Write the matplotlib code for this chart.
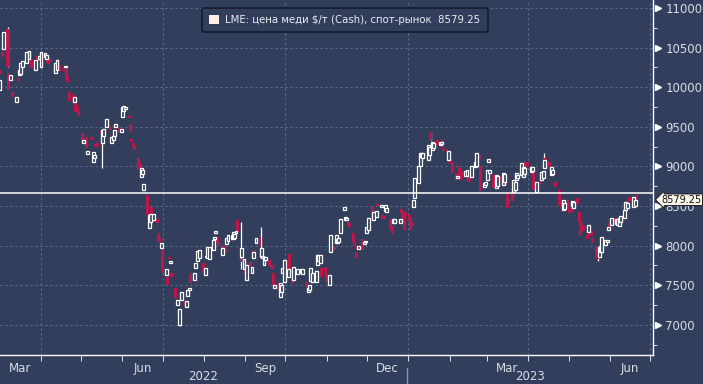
import numpy as np
import pandas as pd
import matplotlib
matplotlib.use("Agg")
import matplotlib.pyplot as plt
import matplotlib.dates as mdates
from matplotlib.patches import Patch
from matplotlib.lines import Line2D
from matplotlib.transforms import blended_transform_factory

# LME copper cash, daily candles (weekly rows, Mon..Fri)
opens = [
    9970, 10220, 10450, 10480,                      # wk of 28 Feb 2022 (from Tue)
    10730, 10180, 10090, 10150, 9940,
    9815, 10120, 10150, 10170, 10250,
    10300, 10450, 10350, 10450, 10340,
    10220, 10390, 10380, 10360, 10260,
    10380, 10360, 10400, 10380, 10350,
    10240, 10180, 10220, 10350, 10280,
    10230, 10250, 10250, 10140, 9940,
    9900, 9810, 9840, 9760, 9700,
    9420, 9290, 9350, 9370, 9160,
    9370, 9060, 9100, 9280, 9290,
    9450, 9300, 9380, 9450, 9500,
    9500, 9300, 9330, 9380, 9500,
    9480, 9430, 9620, 9700, 9720,
    9640, 9540, 9350, 9290, 9260,
    9100, 9050, 8870, 8900, 8700,
    8640, 8220, 8300, 8490, 8320,
    8330, 8160, 8100, 7970, 7950,
    7630, 7600, 7860, 7780, 7650,
    7470, 7250, 7190, 7000, 7320,
    7300, 7230, 7370, 7440, 7650,
    7570, 7720, 7800, 7940, 7850,
    7780, 7630, 7860, 7850, 7830,
    7950, 8080, 8160, 8110, 8040,
    7880, 7990, 7960, 8020, 8060,
    8090, 8080, 8100, 8160, 8320,
    7860, 7830, 7700, 7700, 7570,
    7790, 7660, 7850, 7950, 8030,
    8110, 7860, 7850, 7760, 7820,
    7820, 7790, 7750, 7650, 7470,
    7530, 7350, 7420, 7650, 7540,
    7600, 7900, 7700, 7590, 7570,
    7640, 7700, 7700, 7650, 7640,
    7540, 7420, 7440, 7560, 7540,
    7540, 7760, 7800, 7780, 7720,
    7730, 7650, 7620, 7500, 7920,
    7980, 8030, 8030, 8050, 8160,
    8450, 8325, 8320, 8300, 8280,
    8160, 8040, 7920, 7990, 7960,
    8080, 8020, 8040, 8160, 8200,
    8490, 8320, 8400, 8360, 8530,
    8490, 8390, 8380, 8440, 8430,
    8330, 8250, 8280, 8290, 8320,
    8280, 8460, 8440, 8390, 8420,
    8390, 8350, 8300, 8490, 8600,                   # wk of 2 Jan 2023
    8790, 9000, 9120, 9100, 9170,
    9080, 9150, 9430, 9210, 9230,
    9330, 9300, 9270, 9280, 9330,
    9220, 9080, 9160, 9100, 9060,
    8920, 8850, 9000, 8980, 8940,
    8880, 8880, 8880, 8870, 8870,
    8990, 9000, 9150, 9130, 9000,
    8740, 8770, 8830, 9050, 8920,
    8890, 8850, 8730, 8750, 8880,
    8770, 8800, 8880, 8670, 8600,
    8710, 8680, 8700, 8830, 8850,
    8890, 8870, 8900, 9060, 9050,
    8930, 8940, 8930, 8800, 8680,
    8840, 8830, 8860, 8980, 9100,
    9060, 8890, 8900, 8920, 8800,
    8700, 8580, 8560, 8450, 8460,
    8580, 8470, 8480, 8500, 8480,
    8600, 8430, 8300, 8280, 8250,
    8140, 8170, 8230, 8180, 8100,
    7980, 7940, 7860, 7920, 7920,
    8010, 8040, 8200, 8280, 8260,
    8350, 8270, 8260, 8250, 8300,
    8350, 8450, 8470, 8600, 8620,
    8490, 8500, 8640,
]
closes = [
    10090, 10170, 10380, 10700,
    10260, 9970, 10150, 10110, 9880,
    9870, 10080, 10220, 10310, 10330,
    10450, 10400, 10460, 10320, 10240,
    10340, 10330, 10330, 10390, 10450,
    10430, 10400, 10300, 10290, 10320,
    10170, 10300, 10340, 10260, 10210,
    10210, 10270, 10100, 10060, 9820,
    9820, 9870, 9690, 9700, 9640,
    9290, 9330, 9280, 9230, 9200,
    9330, 9180, 9150, 9240, 9260,
    9420, 9460, 9470, 9420, 9600,
    9460, 9370, 9380, 9460, 9540,
    9430, 9470, 9750, 9760, 9750,
    9610, 9430, 9310, 9250, 9210,
    8950, 8980, 8980, 8960, 8780,
    8390, 8390, 8400, 8350, 8400,
    8290, 8040, 8050, 8030, 7650,
    7700, 7500, 7830, 7810, 7600,
    7340, 7320, 7110, 7200, 7420,
    7240, 7300, 7440, 7460, 7530,
    7650, 7780, 7930, 7820, 7950,
    7670, 7720, 7870, 7980, 7980,
    8070, 8110, 8180, 8050, 7990,
    7970, 7930, 7920, 8100, 8130,
    8140, 8170, 8150, 8180, 8170,
    7970, 7790, 7830, 7660, 7750,
    7730, 7730, 7920, 7870, 8100,
    7980, 7970, 7870, 7860, 7860,
    7740, 7730, 7700, 7500, 7500,
    7440, 7530, 7500, 7720, 7820,
    7700, 7600, 7650, 7530, 7730,
    7700, 7660, 7670, 7710, 7700,
    7480, 7470, 7500, 7720, 7660,
    7680, 7880, 7880, 7880, 7600,
    7660, 7540, 7570, 7630, 8130,
    7940, 8130, 8090, 8100, 8330,
    8490, 8360, 8350, 8260, 8240,
    8050, 8000, 7850, 7950, 8000,
    7950, 8040, 8060, 8240, 8350,
    8320, 8420, 8350, 8440, 8500,
    8510, 8330, 8340, 8510, 8480,
    8200, 8150, 8330, 8330, 8290,
    8330, 8410, 8340, 8200, 8370,
    8310, 8200, 8250, 8580, 8850,
    9000, 9170, 9170, 9170, 9090,
    9270, 9250, 9330, 9310, 9300,
    9270, 9260, 9310, 9310, 9200,
    9180, 9200, 9040, 9050, 8920,
    8830, 8880, 8880, 8900, 8830,
    8940, 8950, 8800, 8820, 9000,
    9060, 9170, 9120, 9090, 8690,
    8790, 8800, 8950, 9090, 8950,
    8730, 8780, 8890, 8880, 8800,
    8920, 8900, 8760, 8480, 8520,
    8560, 8830, 8800, 8920, 8890,
    9040, 8990, 8980, 9000, 8990,
    8990, 8990, 8700, 8720, 8800,
    8780, 8930, 8940, 9080, 8980,
    8990, 8990, 8960, 8880, 8740,
    8510, 8490, 8500, 8580, 8540,
    8470, 8410, 8420, 8560, 8550,
    8520, 8300, 8140, 8200, 8180,
    8080, 8260, 8140, 8120, 8030,
    7860, 7830, 7980, 7990, 8110,
    8070, 8070, 8240, 8220, 8350,
    8280, 8330, 8340, 8350, 8380,
    8450, 8550, 8540, 8550, 8560,
    8620, 8570, 8579.25,
]
# a few visible wicks
wick_dates = ["2022-03-07", "2022-05-17", "2022-07-14", "2022-08-29", "2022-09-13",
              "2023-01-18", "2023-04-13", "2023-05-23"]
wick_highs = [10760, 9460, 7200, 8300, 8240, 9440, 9170, 7940]
wick_lows = [10260, 8980, 6990, 7700, 7860, 9330, 8980, 7810]

ref_level = 8665
last_price = 8579.25
legend_text = "LME: цена меди $/т (Cash), спот-рынок  8579.25"

BG = "#323e5c"
GRID = "#5d6c8c"
RED = "#bd164b"
TXT = "#d8dce4"

dates = pd.bdate_range("2022-03-01", periods=len(closes))
o = np.array(opens, dtype=float)
c = np.array(closes, dtype=float)

fig = plt.figure(figsize=(7.03, 3.84), dpi=100, facecolor=BG)
ax = fig.add_axes([0, 29 / 384, 653 / 703, 355 / 384])
ax.set_facecolor(BG)

x0 = pd.Timestamp("2022-04-01")
left = mdates.date2num(x0 - pd.Timedelta(days=41 / 1.3355))
right = mdates.date2num(x0 + pd.Timedelta(days=612 / 1.3355))
ax.set_xlim(left, right)
ax.set_ylim(6620, 11100)

# grid
for q in ["2022-04-01", "2022-07-01", "2022-10-01", "2023-01-01", "2023-04-01", "2023-07-01"]:
    ax.axvline(pd.Timestamp(q), color=GRID, lw=0.8, ls=(0, (2, 2.5)), zorder=0)
for lv in range(7000, 11001, 500):
    ax.axhline(lv, color=GRID, lw=0.8, ls=(0, (2, 2.5)), zorder=0)

# candles
w = 2.2
up = c >= o
body = np.maximum(np.abs(c - o), 15)
bottom = np.minimum(o, c)
wd = pd.to_datetime(wick_dates)
ax.vlines(wd, wick_lows, wick_highs, color="white", lw=0.9, zorder=2)
ax.bar(dates[~up], body[~up], bottom=bottom[~up], width=w, color=RED, edgecolor="none", zorder=3)
ax.bar(dates[up], body[up], bottom=bottom[up], width=w, facecolor=BG, edgecolor="white", linewidth=0.9, zorder=4)

ax.axhline(ref_level, color="white", lw=1.1, zorder=5)

# spines
for s in ["top", "left"]:
    ax.spines[s].set_visible(False)
for s in ["right", "bottom"]:
    ax.spines[s].set_color("white")
    ax.spines[s].set_linewidth(1.0)

# y axis on the right
ax.yaxis.tick_right()
ax.set_yticks(range(7000, 11001, 500))
ax.set_yticks(range(6750, 11100, 250), minor=True)
ax.tick_params(axis="y", which="major", length=0, pad=9, labelsize=8.5, labelcolor=TXT)
ax.tick_params(axis="y", which="minor", length=3, color="white", direction="out")
tr = blended_transform_factory(ax.transAxes, ax.transData)
ax.plot([1.008] * 9, list(range(7000, 11001, 500)), ls="none", marker=">", ms=4.5,
        color="white", transform=tr, clip_on=False)

# x axis
ax.xaxis.set_minor_locator(mdates.MonthLocator())
ax.xaxis.set_major_locator(mdates.MonthLocator(bymonth=[3, 6, 9, 12], bymonthday=16))
ax.xaxis.set_major_formatter(mdates.DateFormatter("%b"))
ax.tick_params(axis="x", which="major", length=0, pad=5, labelsize=8.5, labelcolor=TXT)
ax.tick_params(axis="x", which="minor", length=4, color="white", direction="out")

fig.text(203 / 703, 8 / 384, "2022", ha="center", va="center", fontsize=8.5, color=TXT)
fig.text(530 / 703, 8 / 384, "2023", ha="center", va="center", fontsize=8.5, color=TXT)
fig.add_artist(Line2D([407 / 703, 407 / 703], [0, 16 / 384], color="#8893a8", lw=1))

# last price tag
ax.text(1.013, last_price, f"{last_price:.2f}", transform=tr, ha="left", va="center",
        fontsize=7.0, color="#111111", clip_on=False, zorder=10,
        bbox=dict(boxstyle="larrow,pad=0.08", fc="#fbf4e8", ec="#222222", lw=0.7))

# legend
leg = ax.legend([Patch(facecolor="#fdeee8", edgecolor="none")], [legend_text],
                loc="upper center", bbox_to_anchor=(0.528, 0.993), fontsize=7.3,
                frameon=True, fancybox=True, facecolor=BG, edgecolor="#151b2a",
                framealpha=1, handlelength=1.0, handleheight=1.0, handletextpad=0.6,
                borderpad=0.7)
leg.get_frame().set_linewidth(1.2)
for t in leg.get_texts():
    t.set_color("#e8ebf0")

fig.savefig("out.png", dpi=100, facecolor=BG)
